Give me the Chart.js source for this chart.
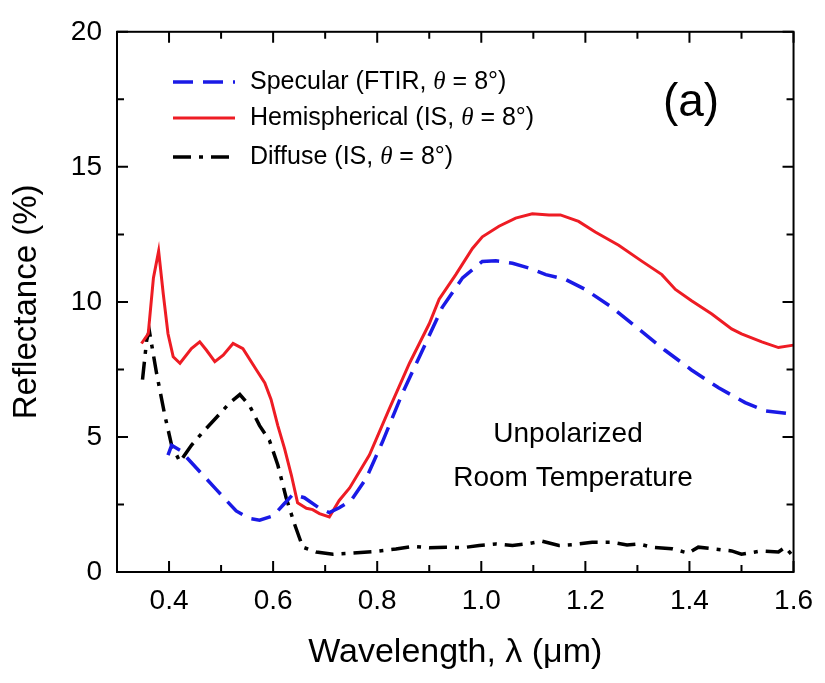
<!DOCTYPE html>
<html>
<head>
<meta charset="utf-8">
<script src="https://cdn.jsdelivr.net/npm/chart.js@4"></script>
<style>
  html, body { margin: 0; padding: 0; background: #fff; }
  #wrap { width: 825px; height: 683px; }
</style>
</head>
<body>
<div id="wrap"><canvas id="chart" width="825" height="683"></canvas></div>
<script>
// wavelength (um) and reflectance (%)
var hemiWl = [0.347, 0.360, 0.370, 0.380, 0.389, 0.398, 0.408, 0.421, 0.443, 0.459, 0.472, 0.488, 0.504, 0.523, 0.542, 0.568, 0.584, 0.596, 0.609, 0.622, 0.635, 0.647, 0.664, 0.676, 0.689, 0.708, 0.727, 0.747, 0.785, 0.823, 0.862, 0.900, 0.919, 0.951, 0.983, 1.002, 1.034, 1.066, 1.098, 1.130, 1.152, 1.187, 1.219, 1.264, 1.309, 1.347, 1.373, 1.404, 1.443, 1.481, 1.500, 1.539, 1.571, 1.600]
var hemiR  = [8.46, 8.82, 10.89, 11.88, 10.28, 8.82, 7.97, 7.73, 8.27, 8.52, 8.21, 7.79, 8.03, 8.46, 8.27, 7.48, 7.00, 6.39, 5.42, 4.57, 3.59, 2.56, 2.36, 2.31, 2.16, 2.04, 2.65, 3.11, 4.33, 6.03, 7.73, 9.19, 10.10, 11.01, 11.98, 12.41, 12.80, 13.10, 13.26, 13.22, 13.22, 12.98, 12.59, 12.10, 11.50, 11.01, 10.46, 10.04, 9.55, 9.00, 8.82, 8.52, 8.31, 8.40]

var specWl = [0.398, 0.405, 0.413, 0.421, 0.453, 0.491, 0.529, 0.555, 0.574, 0.600, 0.620, 0.638, 0.660, 0.690, 0.708, 0.727, 0.750, 0.779, 0.810, 0.849, 0.887, 0.925, 0.964, 1.002, 1.028, 1.060, 1.092, 1.124, 1.162, 1.200, 1.251, 1.302, 1.353, 1.404, 1.456, 1.507, 1.545, 1.600]
var specR  = [4.33, 4.69, 4.60, 4.51, 3.84, 3.05, 2.26, 1.98, 1.92, 2.08, 2.50, 2.87, 2.75, 2.35, 2.20, 2.38, 2.65, 3.47, 4.81, 6.64, 8.21, 9.80, 10.89, 11.50, 11.52, 11.43, 11.25, 11.01, 10.83, 10.46, 9.80, 9.00, 8.21, 7.48, 6.82, 6.27, 5.97, 5.84]

var diffWl = [0.349, 0.357, 0.362, 0.376, 0.392, 0.405, 0.421, 0.443, 0.465, 0.491, 0.517, 0.536, 0.555, 0.574, 0.593, 0.609, 0.625, 0.641, 0.657, 0.683, 0.715, 0.753, 0.790, 0.804, 0.836, 0.868, 0.900, 0.932, 0.964, 0.996, 1.028, 1.060, 1.090, 1.117, 1.149, 1.180, 1.213, 1.251, 1.280, 1.302, 1.328, 1.366, 1.398, 1.417, 1.450, 1.481, 1.500, 1.539, 1.571, 1.584, 1.600]
var diffR  = [7.12, 8.58, 8.94, 7.36, 5.79, 4.69, 4.08, 4.69, 5.18, 5.72, 6.27, 6.57, 6.15, 5.42, 4.87, 3.96, 2.75, 1.78, 0.92, 0.74, 0.66, 0.70, 0.75, 0.78, 0.85, 0.95, 0.90, 0.92, 0.90, 0.98, 1.04, 0.98, 1.05, 1.14, 0.98, 1.02, 1.10, 1.10, 1.00, 1.04, 0.92, 0.86, 0.70, 0.92, 0.85, 0.78, 0.66, 0.78, 0.74, 0.92, 0.56]

var xMajorTicks = [0.4, 0.6, 0.8, 1.0, 1.2, 1.4, 1.6]
var xMinorTicks = [0.5, 0.7, 0.9, 1.1, 1.3, 1.5]
var yMajorTicks = [0, 5, 10, 15, 20]
var yMinorTicks = [2.5, 7.5, 12.5, 17.5]

var seriesNames = ['Specular (FTIR, ', 'Hemispherical (IS, ', 'Diffuse (IS, ']

function toPoints(xs, ys) {
    return xs.map(function(v, i) { return {x: v, y: ys[i]} })
}

var FONT = "'Liberation Sans', Arial, sans-serif"
Chart.defaults.font.family = FONT
Chart.defaults.color = '#000'

// draws a row of text pieces, some italic
function drawParts(ctx, parts, x, y, size) {
    parts.forEach(function(p) {
        ctx.font = (p.italic ? 'italic ' : '') + size + 'px ' + (p.serif ? "'Liberation Serif', serif" : FONT)
        ctx.fillText(p.t, x, y)
        x += ctx.measureText(p.t).width
    })
}

var framePlugin = {
    id: 'frame',
    afterDatasetsDraw: function(chart) {
        var ctx = chart.ctx, a = chart.chartArea
        var xs = chart.scales.x, ys = chart.scales.y
        ctx.save()
        ctx.strokeStyle = '#000'
        ctx.lineWidth = 2
        ctx.strokeRect(a.left, a.top, a.right - a.left, a.bottom - a.top)

        // inward ticks on all four sides
        ctx.beginPath()
        function xt(v, len) {
            var p = xs.getPixelForValue(v)
            ctx.moveTo(p, a.bottom); ctx.lineTo(p, a.bottom - len)
            ctx.moveTo(p, a.top); ctx.lineTo(p, a.top + len)
        }
        function yt(v, len) {
            var p = ys.getPixelForValue(v)
            ctx.moveTo(a.left, p); ctx.lineTo(a.left + len, p)
            ctx.moveTo(a.right, p); ctx.lineTo(a.right - len, p)
        }
        xMajorTicks.forEach(function(v) { xt(v, 11) })
        xMinorTicks.forEach(function(v) { xt(v, 7) })
        yMajorTicks.forEach(function(v) { yt(v, 11) })
        yMinorTicks.forEach(function(v) { yt(v, 7) })
        ctx.stroke()

        // legend
        var ds = chart.data.datasets
        var rows = [82, 118, 157]
        ctx.textBaseline = 'middle'
        ctx.fillStyle = '#000'
        ds.forEach(function(d, i) {
            ctx.save()
            ctx.strokeStyle = d.borderColor
            ctx.lineWidth = d.borderWidth
            ctx.setLineDash(d.borderDash || [])
            ctx.beginPath()
            ctx.moveTo(a.left + 56, rows[i])
            ctx.lineTo(a.left + 118, rows[i])
            ctx.stroke()
            ctx.restore()
            drawParts(ctx, [
                {t: seriesNames[i]},
                {t: '\u03b8', italic: true, serif: true},
                {t: ' = 8\u00b0)'}
            ], a.left + 133, rows[i], 25)
        })

        // labels
        ctx.textAlign = 'center'
        ctx.font = '46px ' + FONT
        ctx.fillText('(a)', 691, 103)
        ctx.font = '28px ' + FONT
        ctx.fillText('Unpolarized', 568, 434)
        ctx.fillText('Room Temperature', 573, 478)
        ctx.restore()
    }
}

new Chart(document.getElementById('chart'), {
    type: 'line',
    data: {
        datasets: [
            {
                label: seriesNames[0],
                data: toPoints(specWl, specR),
                borderColor: '#1a1ae6',
                borderWidth: 3.5,
                borderDash: [20, 10]
            },
            {
                label: seriesNames[1],
                data: toPoints(hemiWl, hemiR),
                borderColor: '#ee1c24',
                borderWidth: 3
            },
            {
                label: seriesNames[2],
                data: toPoints(diffWl, diffR),
                borderColor: '#000000',
                borderWidth: 3.5,
                borderDash: [18, 8, 4, 8]
            }
        ]
    },
    options: {
        responsive: false,
        animation: false,
        layout: { padding: { top: 23, right: 30, left: 0, bottom: 0 } },
        elements: { point: { radius: 0 }, line: { tension: 0, fill: false } },
        plugins: { legend: { display: false }, tooltip: { enabled: false } },
        scales: {
            x: {
                type: 'linear',
                min: 0.3,
                max: 1.6,
                grid: { display: false, drawTicks: false },
                border: { display: false },
                afterBuildTicks: function(s) { s.ticks = xMajorTicks.map(function(v) { return {value: v} }) },
                afterFit: function(s) { s.height = 111 },
                ticks: {
                    font: { size: 28 },
                    padding: 12,
                    maxRotation: 0,
                    callback: function(v) { return v.toFixed(1) }
                },
                title: {
                    display: true,
                    text: 'Wavelength, \u03bb (\u03bcm)',
                    font: { size: 34 },
                    padding: { top: 0, bottom: 10 }
                }
            },
            y: {
                min: 0,
                max: 20,
                grid: { display: false, drawTicks: false },
                border: { display: false },
                afterBuildTicks: function(s) { s.ticks = yMajorTicks.map(function(v) { return {value: v} }) },
                afterFit: function(s) { s.width = 117 },
                ticks: { font: { size: 28 }, padding: 15 },
                title: {
                    display: true,
                    text: 'Reflectance (%)',
                    font: { size: 33 },
                    padding: { top: 7, bottom: 0 }
                }
            }
        }
    },
    plugins: [framePlugin]
})
</script>
</body>
</html>
